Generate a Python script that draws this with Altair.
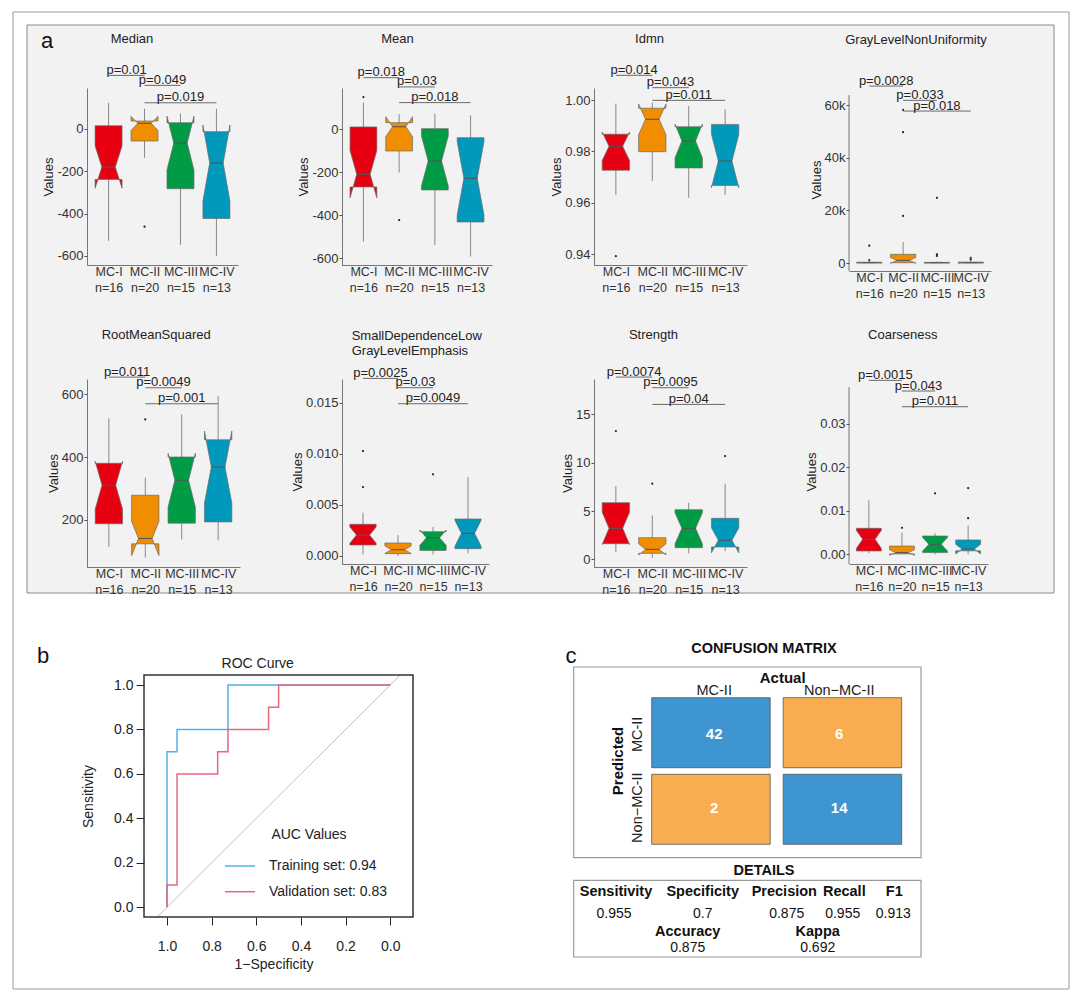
import altair as alt
import numpy as np
import pandas as pd

FONT = "Liberation Sans"

# ---------------- data ----------------
GROUPS = ["MC-I", "MC-II", "MC-III", "MC-IV"]
GROUP_N = [16, 20, 15, 13]
GROUP_COLORS = ["#E60012", "#F18D00", "#009B45", "#0099BC"]
PAIRS = [(1, 2), (2, 3), (2, 4)]

median_stats = dict(q1=[-239, -58, -283, -423], med=[-181, 25, -68, -162], q3=[14, 36, 28, -14],
                    lo=[-529, -137, -548, -600], hi=[122, 94, 72, 94],
                    out=[[], [-462], [], []], p=["p=0.01", "p=0.049", "p=0.019"])
mean_stats = dict(q1=[-268, -101, -282, -431], med=[-209, 12, -147, -228], q3=[11, 31, 3, -39],
                  lo=[-522, -201, -538, -592], hi=[124, 70, 73, 65],
                  out=[[150], [-422], [], []], p=["p=0.018", "p=0.03", "p=0.018"])
idmn_stats = dict(q1=[0.9727, 0.9799, 0.9736, 0.9668], med=[0.9820, 0.9925, 0.9841, 0.9763],
                  q3=[0.9867, 0.9968, 0.9896, 0.9905], lo=[0.9631, 0.9685, 0.9620, 0.9631],
                  hi=[0.9986, 0.9990, 0.9977, 0.9964],
                  out=[[0.9393], [], [], []], p=["p=0.014", "p=0.043", "p=0.011"])
glnu_stats = dict(q1=[30, 100, 20, 30], med=[100, 1000, 80, 100], q3=[300, 3300, 250, 350],
                  lo=[0, 0, 0, 0], hi=[700, 8000, 500, 700],
                  out=[[1100, 6600], [17900, 49800, 58300], [2700, 3300, 24800], [1300, 2000]],
                  p=["p=0.0028", "p=0.033", "p=0.018"])
rms_stats = dict(q1=[187, 123, 189, 193], med=[310, 140, 326, 368], q3=[380, 278, 400, 455],
                 lo=[113, 79, 137, 134], hi=[523, 334, 536, 595],
                 out=[[], [520], [], []], p=["p=0.011", "p=0.0049", "p=0.001"])
sdlgle_stats = dict(q1=[0.00108, 0.00023, 0.00055, 0.00072], med=[0.00205, 0.00062, 0.00179, 0.00222],
                    q3=[0.0031, 0.00127, 0.00238, 0.00362], lo=[0.00016, 0.0, 0.00016, 0.00026],
                    hi=[0.00424, 0.00205, 0.00284, 0.00773],
                    out=[[0.00675, 0.01027], [], [0.00799], []], p=["p=0.0025", "p=0.03", "p=0.0049"])
strength_stats = dict(q1=[1.62, 0.62, 1.21, 1.28], med=[3.21, 1.03, 3.21, 1.97], q3=[5.86, 2.24, 5.14, 4.24],
                      lo=[0.76, 0.17, 0.62, 0.86], hi=[7.59, 4.55, 5.86, 7.83],
                      out=[[13.28], [7.83], [], [10.69]], p=["p=0.0074", "p=0.0095", "p=0.04"])
coarse_stats = dict(q1=[0.00077, 0.0001, 0.0004, 0.0008], med=[0.00344, 0.0004, 0.0023, 0.0012],
                    q3=[0.00597, 0.0019, 0.0042, 0.0033], lo=[0.00023, 0.0, 0.0, 0.0],
                    hi=[0.0124, 0.0050, 0.0048, 0.0066],
                    out=[[], [0.0061], [0.0140], [0.0083, 0.0152]], p=["p=0.0015", "p=0.043", "p=0.011"])

FEATURE_TITLES = ["Median", "Mean", "Idmn", "GrayLevelNonUniformity", "RootMeanSquared",
                  ["SmallDependenceLow", "GrayLevelEmphasis"], "Strength", "Coarseness"]
FEATURE_STATS = [median_stats, mean_stats, idmn_stats, glnu_stats, rms_stats, sdlgle_stats,
                 strength_stats, coarse_stats]

# ROC curves (specificity, sensitivity)
train_spec = [1.0, 1.0, 0.955, 0.955, 0.727, 0.727, 0.0]
train_sens = [0.0, 0.7, 0.7, 0.8, 0.8, 1.0, 1.0]
valid_spec = [1.0, 1.0, 0.955, 0.955, 0.773, 0.773, 0.727, 0.727, 0.545, 0.545, 0.5, 0.5, 0.0]
valid_sens = [0.0, 0.1, 0.1, 0.6, 0.6, 0.7, 0.7, 0.8, 0.8, 0.9, 0.9, 1.0, 1.0]
ROC_LABELS = ["Training set: 0.94", "Validation set: 0.83"]
ROC_COLORS = ["#4FB3E8", "#E8667D"]

# confusion matrix
CM_LEVELS = ["MC-II", "Non\u2212MC-II"]
CM_ACTUAL = ["MC-II", "Non\u2212MC-II", "MC-II", "Non\u2212MC-II"]
CM_PRED = ["MC-II", "MC-II", "Non\u2212MC-II", "Non\u2212MC-II"]
CM_COUNT = [42, 6, 2, 14]
DETAIL_NAMES = ["Sensitivity", "Specificity", "Precision", "Recall", "F1"]
DETAIL_VALUES = ["0.955", "0.7", "0.875", "0.955", "0.913"]
DETAIL2_NAMES = ["Accuracy", "Kappa"]
DETAIL2_VALUES = ["0.875", "0.692"]

# ---------------- layout ----------------
PANEL_LAYOUT = [
    dict(w=151, h=177, ydom=[-642.5, 191.7], ticks=[-600, -400, -200, 0], lab="'' + datum.value",
         by=[251, 204, 122], tdx=-30.5, ty=-49, atop=0),
    dict(w=150, h=177, ydom=[-631, 192], ticks=[-600, -400, -200, 0], lab="'' + datum.value",
         by=[240, 197, 124], tdx=-19.5, ty=-49, atop=0),
    dict(w=153, h=177, ydom=[0.93585, 1.00467], ticks=[0.94, 0.96, 0.98, 1.0], lab="format(datum.value, '.2f')",
         by=[1.0096, 1.0048, 0.99987], tdx=-21, ty=-49, atop=0),
    dict(w=142, h=183, ydom=[-3043, 66600], ticks=[0, 20000, 40000, 60000],
         lab="datum.value == 0 ? '0' : (datum.value / 1000) + 'k'",
         by=[67330, 61900, 57820], tdx=-4, ty=-48, atop=7),
    dict(w=153, h=188, ydom=[49, 649], ticks=[200, 400, 600], lab="'' + datum.value",
         by=[655, 621, 570], tdx=-7.3, ty=-44, atop=0),
    dict(w=147, h=185, ydom=[-0.000783, 0.01732], ticks=[0, 0.005, 0.01, 0.015], lab="format(datum.value, '.3f')",
         by=[0.01738, 0.01647, 0.0149], tdx=None, ty=-39.5, atop=0),
    dict(w=153, h=188, ydom=[-0.793, 18.66], ticks=[0, 5, 10, 15], lab="'' + datum.value",
         by=[18.86, 17.76, 16.03], tdx=-17, ty=-44, atop=0),
    dict(w=139, h=185, ydom=[-0.00222, 0.04025], ticks=[0, 0.01, 0.02, 0.03], lab="format(datum.value, '.2f')",
         by=[0.03994, 0.03749, 0.03389], tdx=-15.7, ty=-44, atop=8),
]
HALF_W = 0.375
AXIS_COL = "#555555"
TXT = "#222222"

x_label_expr = " : ".join(
    [f"datum.value == {i + 1} ? ['{g}', 'n={n}']" for i, (g, n) in enumerate(zip(GROUPS[:-1], GROUP_N[:-1]))]
    + [f"['{GROUPS[-1]}', 'n={GROUP_N[-1]}']"])

one = pd.DataFrame({"a": [0]})


def box_panel(stats, title, lay, first=False):
    xs = alt.Scale(domain=[0.4, 4.6], nice=False, zero=False)
    ys = alt.Scale(domain=lay["ydom"], nice=False, zero=False)
    xaxis = alt.Axis(values=[1, 2, 3, 4], labelExpr=x_label_expr, title=None, ticks=False, labelPadding=0,
                     labelFontSize=12.5, labelLineHeight=16, labelColor="#333", labelBaseline="top",
                     domainColor=AXIS_COL, domainWidth=0.8, labelOverlap=False, labelFlush=False,
                     grid=False, zindex=1)
    yaxis = alt.Axis(values=lay["ticks"], labelExpr=lay["lab"], title="Values", titleFontSize=13,
                     titleFontWeight="normal", titleColor=TXT, titlePadding=1, labelFontSize=13,
                     labelColor="#333", tickSize=3, tickColor=AXIS_COL, labelPadding=1,
                     domain=(lay["atop"] == 0), domainColor=AXIS_COL, domainWidth=0.8, grid=False, zindex=1,
                     labelFlush=False, labelOverlap=False)

    def X(f):
        return alt.X(f"{f}:Q", scale=xs, axis=xaxis)

    def Y(f):
        return alt.Y(f"{f}:Q", scale=ys, axis=yaxis)

    centers = [i + 1 for i in range(4)]
    whisk = pd.DataFrame({"x": centers, "y": stats["lo"], "y2": stats["hi"]})
    poly_rows = []
    med_rows = []
    for i, g in enumerate(GROUPS):
        c = centers[i]
        q1, m, q3 = stats["q1"][i], stats["med"][i], stats["q3"][i]
        notch = 1.58 * (q3 - q1) / np.sqrt(GROUP_N[i])
        nl, nh = m - notch, m + notch
        w = HALF_W
        pts = [(c - w, q3), (c - w, nh), (c - w / 2, m), (c - w, nl), (c - w, q1),
               (c + w, q1), (c + w, nl), (c + w / 2, m), (c + w, nh), (c + w, q3), (c - w, q3)]
        for k, (px, py) in enumerate(pts):
            poly_rows.append({"g": g, "k": k, "x": px, "y": py})
        med_rows.append({"x": c - w / 2, "x2": c + w / 2, "y": m})
    poly = pd.DataFrame(poly_rows)
    meds = pd.DataFrame(med_rows)
    outs = pd.DataFrame([{"x": centers[i], "y": v} for i in range(4) for v in stats["out"][i]])
    br = pd.DataFrame({"x": [a for a, b in PAIRS], "x2": [b for a, b in PAIRS],
                       "xm": [(a + b) / 2 for a, b in PAIRS], "y": lay["by"], "p": stats["p"]})

    layers = []
    if first:
        layers.append(alt.Chart(one).mark_rect(fill="white", stroke="#9a9a9a", strokeWidth=1).encode(
            x=alt.value(-74), x2=alt.value(982), y=alt.value(-76), y2=alt.value(901)))
        layers.append(alt.Chart(one).mark_rect(fill="#F2F2F2", stroke="#8a8a8a", strokeWidth=1).encode(
            x=alt.value(-60), x2=alt.value(967), y=alt.value(-63), y2=alt.value(505)))
        layers.append(alt.Chart(one).mark_text(text="a", fontSize=22, font=FONT, color="#111",
                                               baseline="middle").encode(x=alt.value(-40), y=alt.value(-47)))
    if lay["atop"]:
        # y-axis line of a panel whose axis starts a little below the row top
        layers.append(alt.Chart(one).mark_rule(color=AXIS_COL, strokeWidth=0.8).encode(
            x=alt.value(0), y=alt.value(lay["atop"]), y2=alt.value(lay["h"])))
    layers.append(alt.Chart(whisk).mark_rule(color="#6e6e6e", strokeWidth=0.8).encode(
        x=X("x"), y=Y("y"), y2="y2:Q"))
    layers.append(alt.Chart(poly).mark_line(stroke="#6a6a6a", strokeWidth=0.7).encode(
        x=X("x"), y=Y("y"), order="k:Q", detail="g:N",
        fill=alt.Fill("g:N", scale=alt.Scale(domain=GROUPS, range=GROUP_COLORS), legend=None)))
    layers.append(alt.Chart(meds).mark_rule(color="#555555", strokeWidth=1.1).encode(
        x=X("x"), x2="x2:Q", y=Y("y")))
    if len(outs):
        layers.append(alt.Chart(outs).mark_circle(size=5, color="#222", opacity=1).encode(x=X("x"), y=Y("y")))
    layers.append(alt.Chart(br).mark_rule(color="#6a6a6a", strokeWidth=1).encode(
        x=X("x"), x2="x2:Q", y=Y("y")))
    layers.append(alt.Chart(br).mark_text(fontSize=13, font=FONT, color=TXT, baseline="alphabetic",
                                          dy=-1.5).encode(x=X("xm"), y=Y("y"), text="p:N"))
    if isinstance(title, list):
        layers.append(alt.Chart(one).mark_text(text=title, fontSize=13, font=FONT, color=TXT, align="left",
                                               baseline="alphabetic", lineHeight=15.3).encode(
            x=alt.value(9.7), y=alt.value(lay["ty"])))
    else:
        layers.append(alt.Chart(one).mark_text(text=title, fontSize=13, font=FONT, color=TXT,
                                               baseline="middle").encode(
            x=alt.value(lay["w"] / 2 + lay["tdx"]), y=alt.value(lay["ty"])))
    return alt.layer(*layers).properties(width=lay["w"], height=lay["h"])


panels = [box_panel(s, t, l, first=(i == 0))
          for i, (s, t, l) in enumerate(zip(FEATURE_STATS, FEATURE_TITLES, PANEL_LAYOUT))]

# ---------------- ROC ----------------
ROC_W, ROC_H = 150, 242          # view narrower than the drawn plot so the grid column is not widened
ROC_L, ROC_R = 57, 326           # plot frame inside the view
roc_xs = alt.Scale(domain=[1.103, -0.102], range=[ROC_L, ROC_R], nice=False, zero=False)
roc_ys = alt.Scale(domain=[-0.0436, 1.045], nice=False, zero=False)
roc_xaxis = alt.Axis(values=[0, 0.2, 0.4, 0.6, 0.8, 1.0], format=".1f", domain=False, tickSize=8,
                     tickColor="#222", labelFontSize=14, labelPadding=14, labelColor=TXT,
                     title="1\u2212Specificity", titleFontSize=14, titleFontWeight="normal", titleColor=TXT,
                     titlePadding=4, titleX=(ROC_L + ROC_R) / 2 - 5, grid=False, labelFlush=False,
                     labelOverlap=False)
roc_yaxis = alt.Axis(values=[0, 0.2, 0.4, 0.6, 0.8, 1.0], format=".1f", domain=False, tickSize=8,
                     tickColor="#222", labelFontSize=14, labelPadding=3, labelColor=TXT,
                     title="Sensitivity", titleFontSize=14, titleFontWeight="normal", titleColor=TXT,
                     titlePadding=18, offset=-ROC_L, grid=False, labelFlush=False, labelOverlap=False)

train_df = pd.DataFrame({"spec": train_spec, "sens": train_sens, "k": range(len(train_spec))})
valid_df = pd.DataFrame({"spec": valid_spec, "sens": valid_sens, "k": range(len(valid_spec))})
diag_df = pd.DataFrame({"spec": [1 - roc_ys.domain[0], 1 - roc_ys.domain[1]],
                        "sens": [roc_ys.domain[0], roc_ys.domain[1]]})

RX = alt.X("spec:Q", scale=roc_xs, axis=roc_xaxis)
RY = alt.Y("sens:Q", scale=roc_ys, axis=roc_yaxis)
roc_layers = [
    alt.Chart(diag_df).mark_line(color="#bdbdbd", strokeWidth=1).encode(x=RX, y=RY),
    alt.Chart(train_df).mark_line(color=ROC_COLORS[0], strokeWidth=1.5).encode(x=RX, y=RY, order="k:Q"),
    alt.Chart(valid_df).mark_line(color=ROC_COLORS[1], strokeWidth=1.5).encode(x=RX, y=RY, order="k:Q"),
    alt.Chart(one).mark_rect(fill=None, stroke="#333", strokeWidth=1.5).encode(
        x=alt.value(ROC_L), x2=alt.value(ROC_R), y=alt.value(0), y2=alt.value(ROC_H)),
    alt.Chart(one).mark_text(text="ROC Curve", fontSize=14, font=FONT, color=TXT, baseline="middle").encode(
        x=alt.value(170.7), y=alt.value(-10.7)),
    alt.Chart(one).mark_text(text="b", fontSize=22, font=FONT, color="#111", baseline="middle").encode(
        x=alt.value(-44), y=alt.value(-19)),
    alt.Chart(one).mark_text(text="AUC Values", fontSize=14, font=FONT, color=TXT, baseline="middle").encode(
        x=alt.value(222), y=alt.value(160)),
]
for i, (lab, col) in enumerate(zip(ROC_LABELS, ROC_COLORS)):
    yy = 191 + 25.7 * i
    roc_layers.append(alt.Chart(one).mark_rule(color=col, strokeWidth=1.5).encode(
        x=alt.value(138), x2=alt.value(168), y=alt.value(yy)))
    roc_layers.append(alt.Chart(one).mark_text(text=lab, fontSize=14, font=FONT, color=TXT, align="left",
                                               baseline="middle").encode(x=alt.value(182), y=alt.value(yy)))
roc = alt.layer(*roc_layers).properties(width=ROC_W, height=ROC_H)

# ---------------- confusion matrix ----------------
CM_W, CM_H = 150, 183            # view narrower than its drawing; contents placed with offset D
D = 174
cm_df = pd.DataFrame({"actual": CM_ACTUAL, "pred": CM_PRED, "count": CM_COUNT})
lv_df = pd.DataFrame({"lvl": CM_LEVELS})
xb = alt.Scale(domain=CM_LEVELS, range=[135.7 + D, 385.7 + D], paddingInner=0.099, paddingOuter=0)
yb = alt.Scale(domain=CM_LEVELS, range=[22.7, 169.3], paddingInner=0.086, paddingOuter=0)

det1 = pd.DataFrame({"name": DETAIL_NAMES, "val": DETAIL_VALUES,
                     "hx": [v + D for v in [100, 186.7, 268.3, 328.3, 378.3]],
                     "vx": [v + D for v in [98, 186.7, 270.7, 326.7, 377.3]]})
det2 = pd.DataFrame({"name": DETAIL2_NAMES, "val": DETAIL2_VALUES,
                     "hx": [171.7 + D, 301.7 + D], "vx": [171.7 + D, 301.7 + D]})


def ttext(df, field, xf, y, bold):
    return alt.Chart(df).mark_text(fontSize=14.5 if bold else 14, font=FONT, color="#111",
                                   fontWeight="bold" if bold else "normal", baseline="middle").encode(
        x=alt.X(f"{xf}:Q", scale=None, axis=None), y=alt.value(y), text=f"{field}:N")


def vtext(txt, x, y, size=14.5, bold=True, angle=0):
    return alt.Chart(one).mark_text(text=txt, fontSize=size, font=FONT, fontWeight="bold" if bold else "normal",
                                    color="#111", baseline="middle", angle=angle).encode(
        x=alt.value(x + D), y=alt.value(y))


cm_layers = [
    alt.Chart(one).mark_rect(fill="white", stroke="#9a9a9a", strokeWidth=1.2).encode(
        x=alt.value(57.7 + D), x2=alt.value(405 + D), y=alt.value(-8), y2=alt.value(182.7)),
    alt.Chart(one).mark_rect(fill="white", stroke="#9a9a9a", strokeWidth=1.2).encode(
        x=alt.value(57.7 + D), x2=alt.value(405 + D), y=alt.value(205.3), y2=alt.value(282)),
    alt.Chart(cm_df).mark_rect(stroke="#555", strokeWidth=0.8).encode(
        x=alt.X("actual:N", scale=xb, axis=None), y=alt.Y("pred:N", scale=yb, axis=None),
        fill=alt.condition("datum.actual == datum.pred", alt.value("#3E95D0"), alt.value("#F7AD50"))),
    alt.Chart(cm_df).mark_text(fontSize=15, font=FONT, fontWeight="bold", color="white",
                               baseline="middle").encode(
        x=alt.X("actual:N", scale=xb, axis=None), y=alt.Y("pred:N", scale=yb, axis=None), text="count:Q"),
    alt.Chart(lv_df).mark_text(fontSize=14.5, font=FONT, color=TXT, baseline="middle").encode(
        x=alt.X("lvl:N", scale=xb, axis=None), y=alt.value(16), text="lvl:N"),
    alt.Chart(lv_df).mark_text(fontSize=14.5, font=FONT, color=TXT, baseline="middle", angle=270).encode(
        y=alt.Y("lvl:N", scale=yb, axis=None), x=alt.value(122 + D), text="lvl:N"),
    vtext("CONFUSION MATRIX", 248, -26),
    vtext("Actual", 266.7, 2.7, size=15),
    vtext("Predicted", 102.3, 86, size=15, angle=270),
    vtext("DETAILS", 248, 196),
    vtext("c", 55, -19, size=22, bold=False),
    ttext(det1, "name", "hx", 216.7, True),
    ttext(det1, "val", "vx", 238.7, False),
    ttext(det2, "name", "hx", 257, True),
    ttext(det2, "val", "vx", 273.3, False),
]
cm = alt.layer(*cm_layers).resolve_scale(x="independent", y="independent").properties(width=CM_W, height=CM_H)

chart = alt.concat(*panels, roc, cm, columns=4).properties(
    bounds="flush",
    align="each",
    spacing=alt.RowColnumber(row=108, column=102),
    padding={"left": 4, "top": 3, "right": 0, "bottom": 0},
    background="white",
).configure_view(stroke=None).configure_axis(labelFont=FONT, titleFont=FONT).configure_text(font=FONT)

chart.save("out.html", embed_options={"renderer": "svg", "actions": False})
